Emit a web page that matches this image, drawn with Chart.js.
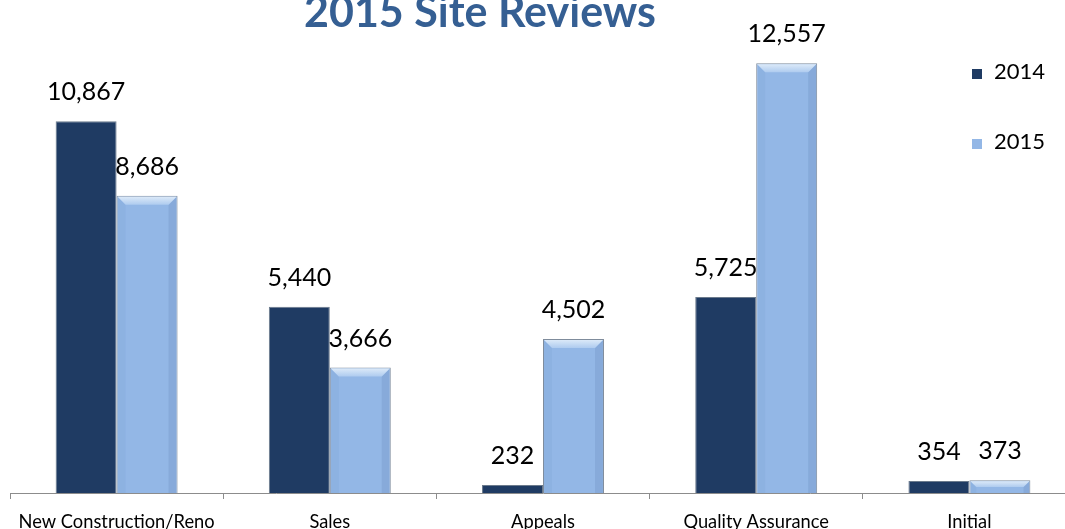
<!DOCTYPE html>
<html>
<head>
<meta charset="utf-8">
<script src="https://cdn.jsdelivr.net/npm/chart.js@4/dist/chart.umd.min.js"></script>
<style>
  html, body { margin: 0; padding: 0; background: #fff; overflow: hidden; }
  #wrap { position: absolute; left: 0; top: 0; }
</style>
</head>
<body>
<div id="wrap"><canvas id="myChart" width="1080" height="533"></canvas></div>
<script>
var categories = ['New Construction/Reno', 'Sales', 'Appeals', 'Quality Assurance', 'Initial'];
var reviews2014 = [10867, 5440, 232, 5725, 354];
var reviews2015 = [8686, 3666, 4502, 12557, 373];
var seriesNames = ['2014', '2015'];

var FONT = 'Lato, "Open Sans", sans-serif';

// numbers above the bars
var valueLabels = {
    id: 'valueLabels',
    afterDatasetsDraw: function(chart) {
        var ctx = chart.ctx;
        ctx.save();
        ctx.font = '25px ' + FONT;
        ctx.fillStyle = '#000';
        ctx.textAlign = 'center';
        ctx.textBaseline = 'alphabetic';
        chart.data.datasets.forEach(function(ds, i) {
            chart.getDatasetMeta(i).data.forEach(function(bar, j) {
                ctx.fillText(ds.data[j].toLocaleString('en-US'), bar.x, bar.y - 21);
            });
        });
        ctx.restore();
    }
};

// bevel on the light bars
var bevel = {
    id: 'bevel',
    afterDatasetsDraw: function(chart) {
        var ctx = chart.ctx;
        ctx.save();
        chart.getDatasetMeta(1).data.forEach(function(bar) {
            var l = bar.x - bar.width / 2 + 1, r = bar.x + bar.width / 2 - 1, t = bar.y + 1;
            var b = bar.base;
            var d = Math.min(8, (b - t) / 2);
            // sides, only slightly darker
            ctx.fillStyle = 'rgba(70,110,170,0.07)';
            ctx.beginPath();
            ctx.moveTo(l, t); ctx.lineTo(l + d, t + d); ctx.lineTo(l + d, b); ctx.lineTo(l, b);
            ctx.closePath(); ctx.fill();
            ctx.fillStyle = 'rgba(50,80,130,0.12)';
            ctx.beginPath();
            ctx.moveTo(r, t); ctx.lineTo(r - d, t + d); ctx.lineTo(r - d, b); ctx.lineTo(r, b);
            ctx.closePath(); ctx.fill();
            // top, light
            var g = ctx.createLinearGradient(0, t, 0, t + d);
            g.addColorStop(0, '#dbe9f8');
            g.addColorStop(1, '#aecbef');
            ctx.fillStyle = g;
            ctx.beginPath();
            ctx.moveTo(l, t); ctx.lineTo(r, t); ctx.lineTo(r - d, t + d); ctx.lineTo(l + d, t + d);
            ctx.closePath(); ctx.fill();
        });
        ctx.restore();
    }
};

// title and legend
var decorations = {
    id: 'decorations',
    afterDraw: function(chart) {
        var ctx = chart.ctx;
        ctx.save();
        ctx.font = 'bold 43px ' + FONT;
        ctx.fillStyle = '#355f93';
        ctx.textAlign = 'center';
        ctx.fillText('2015 Site Reviews', 480, 27);

        ctx.font = '22px ' + FONT;
        ctx.textAlign = 'left';
        var rows = [79, 149];
        chart.data.datasets.forEach(function(ds, i) {
            ctx.fillStyle = ds.backgroundColor;
            ctx.fillRect(972, rows[i] - 10, 10, 10);
            ctx.fillStyle = '#000';
            ctx.fillText(ds.label, 994, rows[i]);
        });
        ctx.restore();
    }
};

var ctx = document.getElementById('myChart').getContext('2d');
var chart = new Chart(ctx, {
    type: 'bar',
    data: {
        labels: categories,
        datasets: [{
            label: seriesNames[0],
            data: reviews2014,
            backgroundColor: '#1f3b63',
            borderColor: '#6b7a8c',
            borderWidth: 1
        }, {
            label: seriesNames[1],
            data: reviews2015,
            backgroundColor: '#93b7e6',
            borderColor: '#7f8c9c',
            borderWidth: 1
        }]
    },
    options: {
        responsive: false,
        animation: false,
        layout: { padding: { left: 10, right: 4, top: 14, bottom: 0 } },
        datasets: {
            bar: { categoryPercentage: 0.572, barPercentage: 1 }
        },
        plugins: {
            legend: { display: false },
            title: { display: false },
            tooltip: { enabled: false }
        },
        scales: {
            x: {
                grid: {
                    offset: true,
                    drawOnChartArea: false,
                    drawTicks: true,
                    tickLength: 6,
                    color: '#8c8c8c'
                },
                border: { display: true, color: '#8c8c8c', width: 1 },
                ticks: {
                    color: '#000',
                    font: { family: FONT, size: 18.3 },
                    padding: 12,
                    maxRotation: 0,
                    autoSkip: false
                },
                afterFit: function(scale) { scale.height = 40; }
            },
            y: {
                display: false,
                min: 0,
                max: 14000
            }
        }
    },
    plugins: [valueLabels, bevel, decorations]
});
</script>
</body>
</html>
